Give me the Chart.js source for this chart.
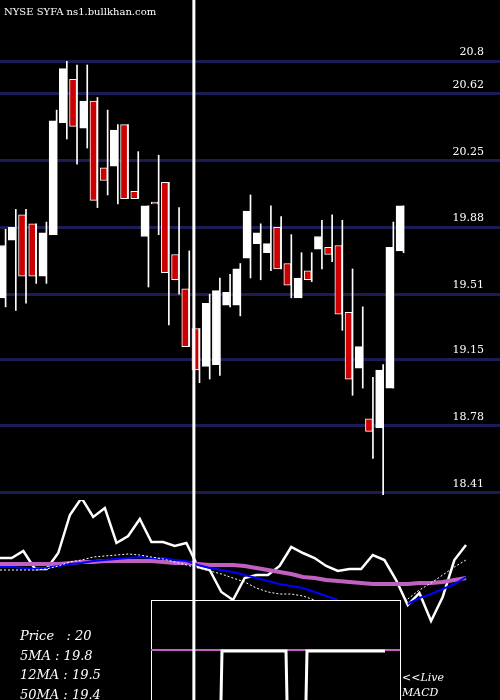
<!DOCTYPE html>
<html>
<head>
<meta charset="utf-8">
<script src="https://cdn.jsdelivr.net/npm/chart.js@4"></script>
<style>
  body { margin: 0; background: #000; width: 500px; height: 700px; overflow: hidden; position: relative; }
  canvas { position: absolute; left: 0; }
  #top { top: 0; }
  #bottom { top: 500px; }
</style>
</head>
<body>
<canvas id="top" width="500" height="500"></canvas>
<canvas id="bottom" width="500" height="200"></canvas>
<script>
// candles
const opens  = [19.49,19.81,19.95,19.90,19.61,19.84,20.46,20.70,20.43,20.58,20.21,20.22,20.45,20.08,19.83,20.02,20.13,19.73,19.54,19.32,
                19.11,19.12,19.45,19.45,19.71,19.79,19.74,19.88,19.68,19.49,19.64,19.76,19.77,19.78,19.41,19.10,18.82,18.77,18.99,19.75];
const highs  = [19.87,19.98,19.98,19.90,19.91,20.53,20.80,20.78,20.78,20.60,20.53,20.45,20.45,20.30,20.00,20.28,20.13,19.99,19.75,19.32,
                19.51,19.60,19.62,19.68,20.06,19.90,20.00,19.94,19.84,19.74,19.74,19.92,19.95,19.92,19.65,19.44,19.05,19.12,19.91,20.00];
const lows   = [19.44,19.42,19.46,19.57,19.57,19.84,20.37,20.23,20.32,19.99,20.06,20.01,20.04,20.04,19.55,19.84,19.34,19.51,19.22,19.02,
                19.04,19.06,19.44,19.39,19.60,19.59,19.64,19.65,19.49,19.49,19.58,19.65,19.69,19.31,18.95,18.99,18.60,18.40,18.99,19.74];
const closes = [19.78,19.88,19.61,19.61,19.85,20.47,20.76,20.44,20.58,20.03,20.14,20.42,20.04,20.04,20.00,20.01,19.63,19.59,19.22,19.09,
                19.46,19.53,19.52,19.65,19.97,19.85,19.79,19.65,19.56,19.60,19.59,19.83,19.73,19.40,19.04,19.22,18.75,19.09,19.77,20.00];
const priceTicks = [20.8, 20.62, 20.25, 19.88, 19.51, 19.15, 18.78, 18.41];
const slots = 49;

// lower panel lines (panel height units, 0 = bottom)
const fastLine = [142,142,149,131,131,147,185,202,183,192,157,164,181,158,158,154,157,133,130,108,100,122,125,125,134,153,147,142,134,129,131,131,145,140,120,95,107,79,103,140,155];
const blueLine = [133,133,132,131,132,134,136,137,139,140,141,142,143,142,142,140,139,135,132,130,128,125,122,119,116,114,112,108,104,100,null,null,null,null,null,96,102,106,111,116,123];
const pinkLine = [136,136,136,136,136,136,137,138,138,139,139,139,139,139,138,137,137,136,135,135,135,134,132,130,128,126,123,122,120,119,118,117,116,116,116,116,117,117,118,120,122];
const dotLine  = [130,130,130,130,131,134,138,140,143,144,145,146,145,143,141,138,135,132,129,126,122,118,112,108,106,106,104,100,null,null,null,null,null,null,null,101,110,117,125,133,140];

const serif = '"DejaVu Serif", "Liberation Serif", serif';
let splitX = 0;

const labels = Array.from({length: slots}, (_, i) => i);
const candleColors = opens.map((o, i) => closes[i] >= o ? '#ffffff' : '#cc0000');

const topDecor = {
  id: 'topDecor',
  afterDatasetsDraw(chart) {
    const ctx = chart.ctx, y = chart.scales.y, x = chart.scales.x;
    ctx.save();
    ctx.fillStyle = '#fff';
    ctx.font = '11px ' + serif;
    ctx.textAlign = 'right';
    priceTicks.forEach(v => ctx.fillText(String(v), 484, y.getPixelForValue(v) - 6));
    ctx.textAlign = 'left';
    ctx.font = '10px ' + serif;
    ctx.fillText('NYSE SYFA ns1.bullkhan.com', 4, 15);
    splitX = (x.getPixelForValue(18) + x.getPixelForValue(19)) / 2;
    ctx.fillRect(splitX - 1.5, 0, 3, 500);
    ctx.restore();
  }
};

new Chart(document.getElementById('top'), {
  type: 'bar',
  data: {
    labels,
    datasets: [
      { data: highs.map((h, i) => [lows[i], h]), backgroundColor: '#fff', barThickness: 1, order: 2 },
      { data: opens.map((o, i) => [o, closes[i]]), backgroundColor: candleColors, borderColor: '#fff', borderWidth: 1, borderSkipped: false, barThickness: 7, order: 1 }
    ]
  },
  options: {
    responsive: false, animation: false, devicePixelRatio: 1,
    layout: { padding: 0 },
    plugins: { legend: { display: false }, tooltip: { enabled: false } },
    scales: {
      x: { grouped: false, offset: true, display: false, stacked: false },
      y: {
        min: 18.37, max: 21.14, position: 'right',
        afterBuildTicks: s => { s.ticks = priceTicks.map(v => ({ value: v })); },
        grid: { color: '#1c1c55', lineWidth: 3, drawTicks: false },
        border: { display: false },
        ticks: { display: false }
      }
    }
  },
  plugins: [topDecor]
});

const bottomDecor = {
  id: 'bottomDecor',
  afterDatasetsDraw(chart) {
    const ctx = chart.ctx;
    ctx.save();
    // MACD box
    ctx.fillStyle = '#000';
    ctx.fillRect(151, 100, 249, 100);
    ctx.strokeStyle = '#fff';
    ctx.lineWidth = 1;
    ctx.strokeRect(151.5, 100.5, 249, 110);
    ctx.strokeStyle = '#c060c0';
    ctx.lineWidth = 2;
    ctx.beginPath(); ctx.moveTo(151, 150); ctx.lineTo(400, 150); ctx.stroke();
    ctx.strokeStyle = '#fff';
    ctx.lineWidth = 3;
    ctx.beginPath();
    ctx.moveTo(221, 200); ctx.lineTo(222, 151); ctx.lineTo(286, 151); ctx.lineTo(287, 200);
    ctx.moveTo(306, 200); ctx.lineTo(307, 151); ctx.lineTo(385, 151);
    ctx.stroke();
    ctx.fillStyle = '#fff';
    ctx.fillRect((splitX || 188) - 1.5, 0, 3, 200);
    ctx.font = 'italic 13px ' + serif;
    ctx.fillText('Price   : 20', 20, 140);
    ctx.fillText('5MA : 19.8', 20, 160);
    ctx.fillText('12MA : 19.5', 20, 179);
    ctx.fillText('50MA : 19.4', 20, 199);
    ctx.font = 'italic 11px ' + serif;
    ctx.fillText('<<Live', 402, 181);
    ctx.fillText('MACD', 402, 196);
    ctx.restore();
  }
};

new Chart(document.getElementById('bottom'), {
  type: 'line',
  data: {
    labels: fastLine.map((_, i) => i),
    datasets: [
      { data: dotLine, borderColor: '#fff', borderWidth: 1, borderDash: [2, 2], pointRadius: 0, spanGaps: false },
      { data: blueLine, borderColor: '#0000ff', borderWidth: 2, pointRadius: 0, spanGaps: false },
      { data: pinkLine, borderColor: '#c060c0', borderWidth: 4, pointRadius: 0 },
      { data: fastLine, borderColor: '#fff', borderWidth: 2.5, pointRadius: 0 }
    ]
  },
  options: {
    responsive: false, animation: false, devicePixelRatio: 1,
    layout: { padding: { left: 0, right: 34, top: 0, bottom: 0 } },
    plugins: { legend: { display: false }, tooltip: { enabled: false } },
    scales: {
      x: { display: false, offset: false },
      y: { display: false, min: 0, max: 200 }
    }
  },
  plugins: [bottomDecor]
});
</script>
</body>
</html>
